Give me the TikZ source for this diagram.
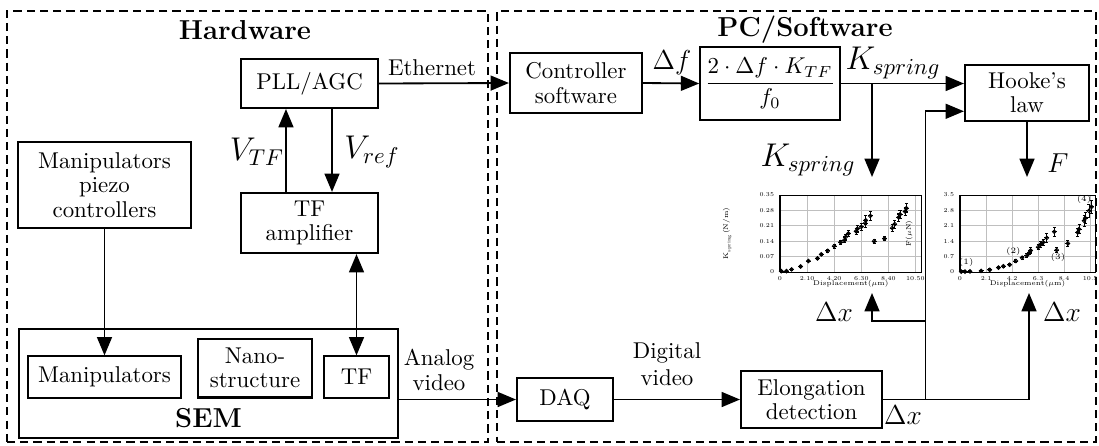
\documentclass[tikz,border=0pt]{standalone}
\usepackage{fontspec}
\usetikzlibrary{positioning,arrows.meta}
\newcommand{\tinymu}{\scalebox{0.6}{$\mu$}}

\begin{document}
\begin{tikzpicture}[x=0.4376pt, y=-0.4376pt,
  blk/.style={rectangle, draw, line width=0.9pt, align=center, inner sep=2pt, font=\fontsize{10}{10.6}\selectfont},
  frm/.style={rectangle, draw, line width=0.8pt, dash pattern=on 3.6pt off 2.2pt},
  arr/.style={-{Triangle[length=8pt,width=6.5pt]}, line width=0.8pt},
  darr/.style={{Triangle[length=8pt,width=6.5pt]}-{Triangle[length=8pt,width=6.5pt]}, line width=0.8pt},
  sig/.style={font=\large},
  bigsig/.style={font=\Large},
  ttl/.style={font=\large\bfseries},
  tk/.style={font=\fontsize{2.6}{3}\selectfont, inner sep=0.4pt},
  ann/.style={font=\fontsize{3.6}{4}\selectfont, inner sep=0.3pt},
  grd/.style={draw=black!25, line width=0.3pt},
  ebar/.style={line width=0.4pt}
]
\useasboundingbox (0,0) rectangle (1099,445);

% frames
\node[frm, minimum width=210.5pt, minimum height=188.6pt] (hw) at (247.5,226.5) {};
\node[frm, minimum width=262.1pt, minimum height=188.6pt] (pc) at (796.5,226.5) {};
\node[ttl] (hwtitle) at (245,30) {Hardware};
\node[ttl] (pctitle) at (805,30) {PC/Software};

% hardware side
\node[blk, minimum width=60pt, minimum height=21.4pt] (pll) at (309.5,83.5) {PLL/AGC};
\node[blk, minimum width=60pt, minimum height=26.3pt] (tfamp) at (309.5,223) {TF\\amplifier};
\node[blk, minimum width=75.7pt, minimum height=37.6pt] (mpc) at (104.5,185) {Manipulators\\piezo\\controllers};
\node[blk, minimum width=165.9pt, minimum height=47.7pt] (sem) at (208.5,383.5) {};
\node[ttl] (semlbl) at (208.5,418) {SEM};
\node[blk, minimum width=67pt, minimum height=18pt] (manip) at (104.5,377) {Manipulators};
\node[blk, minimum width=50pt, minimum height=25.8pt] (nano) at (255,368) {Nano-\\structure};
\node[blk, minimum width=28.4pt, minimum height=18pt] (tf) at (356.5,377) {TF};

% software side
\node[blk, minimum width=57.8pt, minimum height=26.3pt] (ctrl) at (576,83) {Controller\\software};
\node[blk, minimum width=54.3pt, minimum height=32pt] (formula) at (770,83.5) {$\displaystyle\frac{2\cdot\Delta f\cdot K_{TF}}{f_0}$};
\node[blk, minimum width=54.3pt, minimum height=24.5pt] (hooke) at (1027,93) {Hooke's\\law};
\node[blk, minimum width=42pt, minimum height=18.8pt] (daq) at (565,399.5) {DAQ};
\node[blk, minimum width=61.7pt, minimum height=25pt] (elong) at (811.5,399.5) {Elongation\\detection};

\coordinate (kdown) at (872,177);
\coordinate (kin) at (872,293);
\coordinate (fin) at (1029,293);
\coordinate (tap) at (925.5,321);

% connectors
\draw[arr] (pll.east) -- (ctrl.west);
\draw[arr] ([xshift=-10.3pt]tfamp.north) -- ([xshift=-10.3pt]pll.south);
\draw[arr] ([xshift=9.85pt]pll.south) -- ([xshift=9.85pt]tfamp.north);
\draw[darr] (tf.north |- tfamp.south) -- (tf.north);
\draw[arr] (mpc.south) -- (manip.north);
\draw[arr] (daq.west -| sem.east) -- (daq.west);
\draw[arr] (ctrl.east) -- (formula.west);
\draw[arr] (formula.east) -- (formula.east -| hooke.west);
\draw[arr] (formula.east -| kdown) -- (kdown);
\draw[arr] (hooke.south) -- (hooke.south |- kdown);
\draw[arr] (daq.east) -- (elong.west);
\draw[arr] (elong.east) -| (fin);
\draw[arr] (elong.east -| tap) |- ([yshift=-8pt]hooke.west);
\draw[arr] (tap) -| (kin);

% signal labels
\node (ethlbl) at (432,68) {Ethernet};
\node[bigsig] (vtflbl) at (257,152) {$V_{TF}$};
\node[bigsig] (vreflbl) at (372,152) {$V_{ref}$};
\node[align=center, font=\fontsize{10}{11}\selectfont] (analbl) at (439,370) {Analog\\video};
\node[align=center, font=\fontsize{10}{12}\selectfont] (diglbl) at (667,364) {Digital\\video};
\node[sig] (dflbl) at (672,63) {$\Delta f$};
\node[bigsig] (klbl) at (893,63) {$K_{spring}$};
\node[bigsig] (klbl2) at (808,160) {$K_{spring}$};
\node[sig] (flbl) at (1058,163) {$F$};
\node[sig] (dxlbl1) at (834,312) {$\Delta x$};
\node[sig] (dxlbl2) at (1062,312) {$\Delta x$};
\node[sig] (dxlbl3) at (903,415) {$\Delta x$};

% stiffness plot
\begin{scope}[shift={(780,272)}, x=5.645pt, y=96.27pt]
  \foreach \u in {2.1,4.2,6.3,8.4,10.5} \draw[grd] (\u,0) -- (\u,0.35);
  \foreach \v in {0.07,0.14,0.21,0.28} \draw[grd] (0,\v) -- (11,\v);
  \draw[line width=0.4pt] (0,0) rectangle (11,0.35);
  \draw[line width=0.7pt] (0,0) -- (0,0.35);
  \foreach \u/\t [count=\i] in {0/0,2.1/2.10,4.2/4.20,6.3/6.30,8.4/8.40,10.5/10.50}
    \node[tk, anchor=north, yshift=-1.2pt] (kx\i) at (\u,0) {\t};
  \foreach \v/\t [count=\i] in {0/0,0.07/0.07,0.14/0.14,0.21/0.21,0.28/0.28,0.35/0.35}
    \node[tk, anchor=east, xshift=-2pt] (ky\i) at (0,\v) {\t};
  \node[tk, font=\fontsize{3}{3}\selectfont] (kxlab) at (5.5,-0.055) {Displacement(\tinymu m)};
  \node[tk, font=\fontsize{3}{3}\selectfont, rotate=90] (kylab) at (-4.1,0.175) {K\textsubscript{spring}(N/m)};
  \foreach \u/\v/\e in {0.1/0.004/0.003, 0.5/0.004/0.003, 0.9/0.012/0.004, 1.6/0.025/0.004,
      2.2/0.05/0.004, 2.9/0.062/0.005, 3.2/0.08/0.006, 3.7/0.096/0.007, 4.2/0.118/0.009,
      4.7/0.135/0.01, 5.0/0.145/0.012, 5.1/0.16/0.012, 5.3/0.175/0.015, 5.9/0.185/0.015,
      6.0/0.197/0.015, 6.3/0.205/0.017, 6.6/0.222/0.018, 6.65/0.235/0.02, 7.0/0.255/0.02,
      7.3/0.14/0.01, 8.1/0.152/0.01, 8.7/0.2/0.017, 8.9/0.218/0.018, 9.2/0.248/0.02,
      9.3/0.262/0.02, 9.7/0.275/0.02, 9.8/0.29/0.02} {
    \draw[ebar] (\u,\v-\e) -- (\u,\v+\e) (\u-0.12,\v-\e) -- (\u+0.12,\v-\e)
      (\u-0.12,\v+\e) -- (\u+0.12,\v+\e) (\u-0.2,\v) -- (\u+0.2,\v);
    \draw[ebar] (\u,\v) circle (0.8pt);
  }
\end{scope}

% force plot
\begin{scope}[shift={(960,272)}, x=5.426pt, y=9.627pt]
  \foreach \u in {2.1,4.2,6.3,8.4,10.5} \draw[grd] (\u,0) -- (\u,3.5);
  \foreach \v in {0.7,1.4,2.1,2.8} \draw[grd] (0,\v) -- (10.9,\v);
  \draw[line width=0.4pt] (0,0) rectangle (10.9,3.5);
  \draw[line width=0.7pt] (0,0) -- (0,3.5);
  \foreach \u/\t [count=\i] in {0/0,2.1/2.1,4.2/4.2,6.3/6.3,8.4/8.4,10.5/10.5}
    \node[tk, anchor=north, yshift=-1.2pt] (fx\i) at (\u,0) {\t};
  \foreach \v/\t [count=\i] in {0/0,0.7/0.7,1.4/1.4,2.1/2.1,2.8/2.8,3.5/3.5}
    \node[tk, anchor=east, xshift=-2pt] (fy\i) at (0,\v) {\t};
  \node[tk, font=\fontsize{3}{3}\selectfont] (fxlab) at (5.45,-0.55) {Displacement(\tinymu m)};
  \node[tk, font=\fontsize{3}{3}\selectfont, rotate=90] (fylab) at (-4.1,1.75) {F(\tinymu N)};
  \foreach \u/\v/\e in {0.1/0.02/0.03, 0.4/0.02/0.03, 0.8/0.03/0.03, 1.7/0.05/0.04,
      2.4/0.1/0.05, 3.1/0.2/0.05, 3.5/0.26/0.05, 4.0/0.33/0.05, 4.5/0.5/0.06,
      5.0/0.65/0.07, 5.4/0.75/0.08, 5.6/0.88/0.1, 5.7/0.98/0.12, 6.3/1.13/0.12,
      6.5/1.25/0.12, 6.7/1.35/0.14, 7.0/1.55/0.2, 7.6/1.83/0.2, 7.8/1.0/0.1,
      8.7/1.3/0.12, 9.5/1.8/0.2, 9.6/1.95/0.2, 10.0/2.33/0.25, 10.1/2.45/0.25,
      10.4/2.78/0.3, 10.6/2.96/0.3} {
    \draw[ebar] (\u,\v-\e) -- (\u,\v+\e) (\u-0.12,\v-\e) -- (\u+0.12,\v-\e)
      (\u-0.12,\v+\e) -- (\u+0.12,\v+\e) (\u-0.2,\v) -- (\u+0.2,\v);
    \draw[ebar] (\u,\v) circle (0.8pt);
  }
  \node[ann] (pt1) at (0.5,0.45) {(1)};
  \node[ann] (pt2) at (4.3,0.95) {(2)};
  \node[ann] (pt3) at (7.9,0.68) {(3)};
  \node[ann] (pt4) at (10.0,3.3) {(4)};
\end{scope}
\end{tikzpicture}
\end{document}
